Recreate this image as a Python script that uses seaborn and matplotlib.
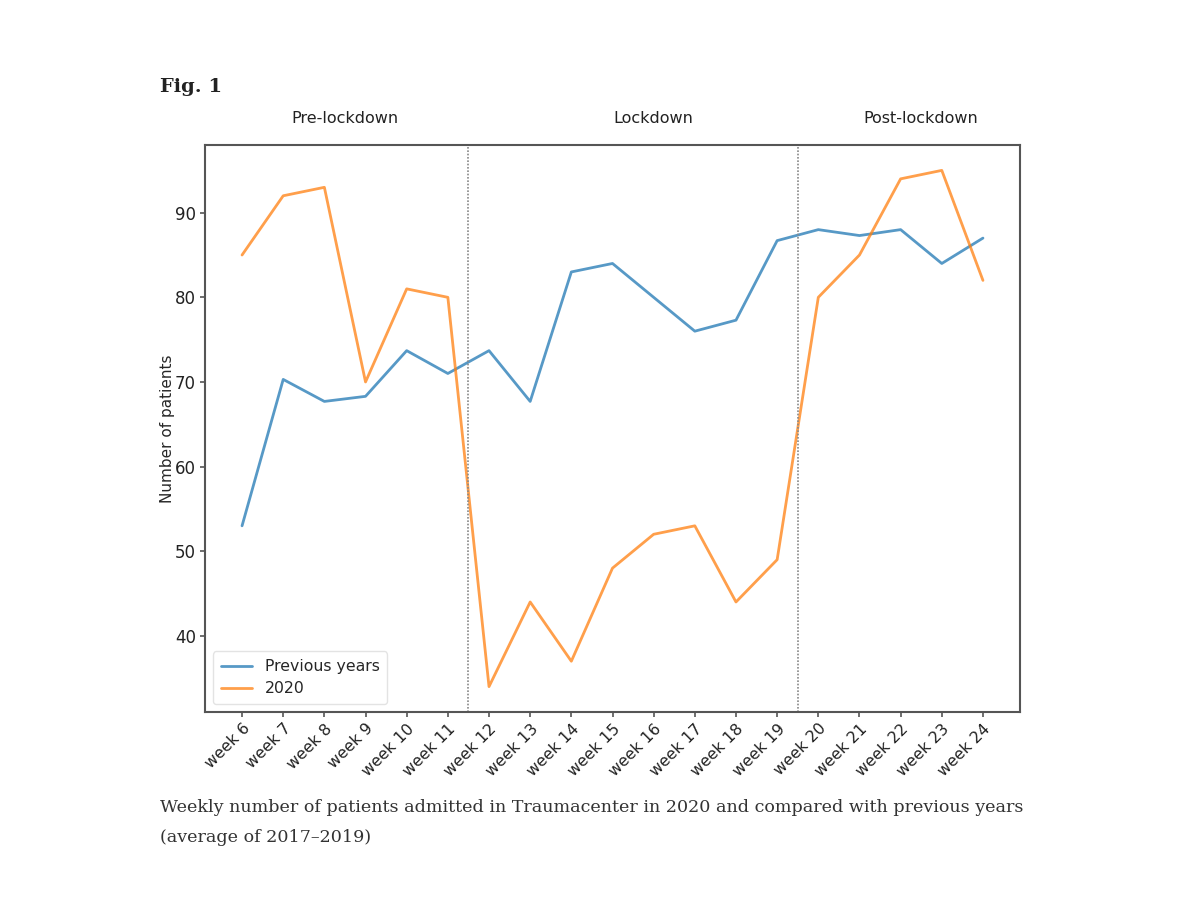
import matplotlib
matplotlib.use("Agg")
import matplotlib.pyplot as plt
import matplotlib.transforms as mtransforms
import seaborn as sns
import pandas as pd

weeks = ["week 6", "week 7", "week 8", "week 9", "week 10", "week 11", "week 12",
         "week 13", "week 14", "week 15", "week 16", "week 17", "week 18", "week 19",
         "week 20", "week 21", "week 22", "week 23", "week 24"]
previous_years = [53.0, 70.3, 67.7, 68.3, 73.7, 71.0, 73.7, 67.7, 83.0, 84.0,
                  80.0, 76.0, 77.3, 86.7, 88.0, 87.3, 88.0, 84.0, 87.0]
y2020 = [85, 92, 93, 70, 81, 80, 34, 44, 37, 48, 52, 53, 44, 49, 80, 85, 94, 95, 82]
series_names = ["Previous years", "2020"]
period_labels = ["Pre-lockdown", "Lockdown", "Post-lockdown"]
period_label_x = [2.5, 10.0, 16.5]
period_bounds = [5.5, 13.5]
y_ticks = [40, 50, 60, 70, 80, 90]

sns.set_style("ticks")
plt.rcParams['font.family'] = ['DejaVu Sans']

df = pd.DataFrame({
    "idx": list(range(len(weeks))) * 2,
    "value": previous_years + y2020,
    "series": [series_names[0]] * len(weeks) + [series_names[1]] * len(weeks),
})

fig = plt.figure(figsize=(12, 9), dpi=100)
fig.patch.set_facecolor("white")
ax = fig.add_axes([205 / 1200, 1 - 712 / 900, (1020 - 205) / 1200, (712 - 145) / 900])

sns.lineplot(data=df, x="idx", y="value", hue="series",
             palette=["#1f77b4", "#ff7f0e"], linewidth=2, alpha=0.75, ax=ax)

for b in period_bounds:
    ax.axvline(b, color="#888888", linestyle=(0, (1, 1)), linewidth=1.2)

ax.set_xlim(-0.9, 18.9)
ax.set_ylim(31, 98)
ax.set_xticks(range(len(weeks)))
ax.set_xticklabels(weeks, rotation=45, ha="right", rotation_mode="anchor", fontsize=11.3)
ax.set_yticks(y_ticks)
ax.set_yticklabels([str(t) for t in y_ticks], fontsize=12)
ax.set_xlabel("")
ax.set_ylabel("Number of patients", fontsize=11, labelpad=0)
ax.tick_params(axis="both", length=3.5, width=1.2, color="#555555", labelcolor="#222222", pad=3)
for s in ax.spines.values():
    s.set_color("#555555")
    s.set_linewidth(1.5)

trans = mtransforms.blended_transform_factory(ax.transData, ax.transAxes)
for lab, xp in zip(period_labels, period_label_x):
    ax.text(xp, 1.046, lab, transform=trans, ha="center", va="center",
            fontsize=11.5, color="#222222")

leg = ax.legend(loc="lower left", fontsize=11.3, frameon=True, fancybox=True,
                borderpad=0.5, handlelength=2.0, handletextpad=0.8,
                labelspacing=0.45, borderaxespad=0.5)
leg.get_frame().set_edgecolor("#dddddd")
for h in leg.get_lines():
    h.set_linewidth(2)
    h.set_alpha(0.75)

fig.text(160 / 1200, 1 - 87 / 900, "Fig. 1", fontsize=14, fontweight="bold",
         family=["DejaVu Serif"], va="center", ha="left", color="#222222")
fig.text(160 / 1200, 1 - 808 / 900,
         "Weekly number of patients admitted in Traumacenter in 2020 and compared with previous years",
         fontsize=12.6, family=["DejaVu Serif"], va="center", ha="left", color="#333333")
fig.text(160 / 1200, 1 - 838 / 900, "(average of 2017\u20132019)",
         fontsize=12.6, family=["DejaVu Serif"], va="center", ha="left", color="#333333")

fig.savefig("out.png", dpi=100, facecolor="white")
